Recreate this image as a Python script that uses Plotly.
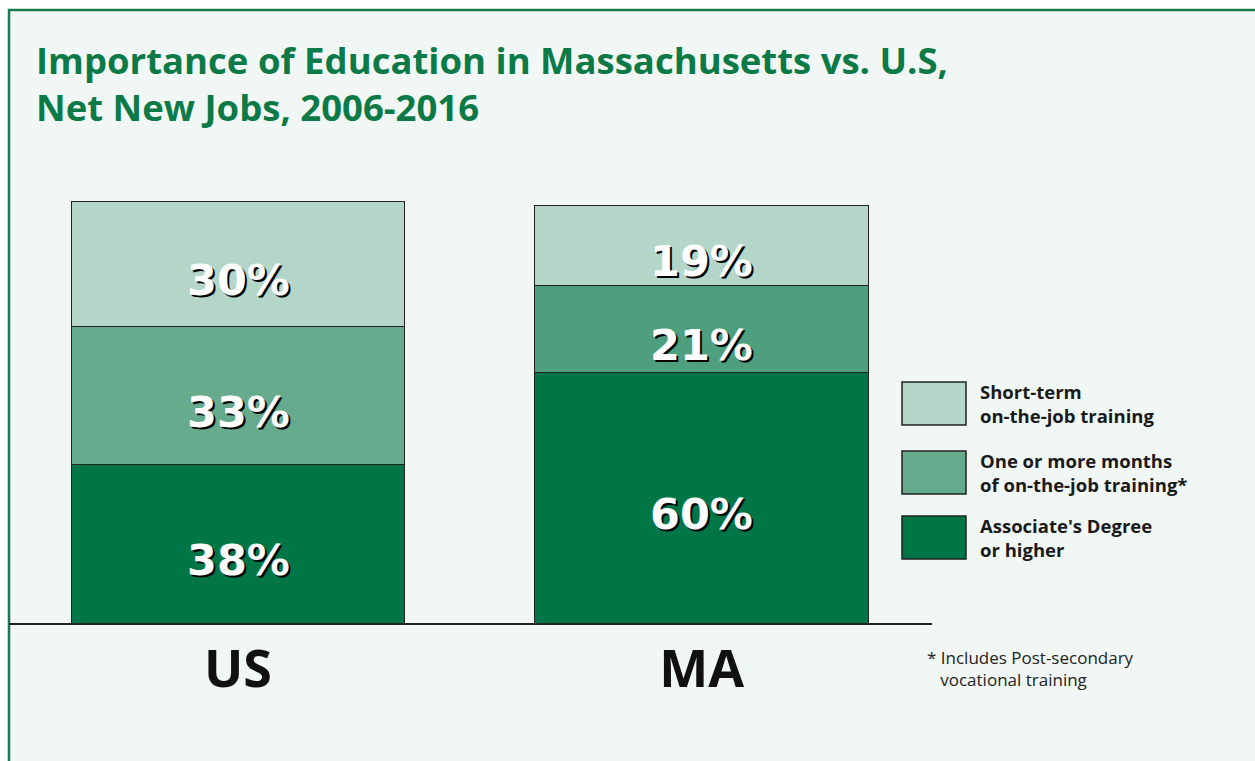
import plotly.graph_objects as go

# ---- data ----
categories = ["US", "MA"]
assoc_degree = [38, 60]
one_or_more_months = [33, 21]
short_term = [30, 19]

series_names = ["Associate's Degree<br>or higher",
                "One or more months<br>of on-the-job training*",
                "Short-term<br>on-the-job training"]
series_values = [assoc_degree, one_or_more_months, short_term]
series_colors = [["#007545", "#007545"],
                 ["#67ab8e", "#4e9f7e"],
                 ["#b3d6c8", "#b3d6c8"]]
legend_colors = ["#007545", "#67ab8e", "#b3d6c8"]

title_text = "Importance of Education in Massachusetts vs. U.S,<br>Net New Jobs, 2006-2016"
footnote = "* Includes Post-secondary<br>   vocational training"

# ---- layout geometry (pixels) ----
W, H = 1255, 761
ML, MR, MT, MB = 9, 323, 164, 138
PW = W - ML - MR
PH = H - MT - MB

def px_x(p):
    return (p - ML) / PW

def px_y(p):
    return (H - MB - p) / PH

fig = go.Figure()
for name, vals, cols in zip(series_names, series_values, series_colors):
    fig.add_trace(go.Bar(
        x=list(range(len(categories))), y=vals, name=name,
        marker=dict(color=cols, line=dict(color="#222222", width=1)),
        width=0.72, showlegend=False, hoverinfo="y+name",
    ))

annotations = []
# value labels
for i, cat in enumerate(categories):
    base = 0
    for vals in series_values:
        v = vals[i]
        annotations.append(dict(
            x=i, y=base + v / 2, xref="x", yref="y", text=f"{v}%",
            showarrow=False, yshift=-16,
            font=dict(family="DejaVu Sans", size=43, color="white",
                      weight="bold", shadow="2px 2px 0px #000000"),
        ))
        base += v

# title
annotations.append(dict(
    x=px_x(34), y=px_y(33), xref="paper", yref="paper", xanchor="left", yanchor="top",
    text=title_text, showarrow=False, align="left",
    font=dict(family="Open Sans", size=36.5, color="#0b7a47", weight="bold"),
))

# legend
legend_boxes = [(516, 559), (451, 494), (382, 425)]
shapes = [dict(type="rect", xref="paper", yref="paper", layer="below",
               x0=0, x1=1.5, y0=-0.5, y1=px_y(10),
               fillcolor="#f1f7f5", line=dict(color="#1a7a4f", width=2.5))]
for (y0, y1), col, name in zip(legend_boxes, legend_colors, series_names):
    shapes.append(dict(type="rect", xref="paper", yref="paper",
                       x0=px_x(902), x1=px_x(966), y0=px_y(y1), y1=px_y(y0),
                       fillcolor=col, line=dict(color="#222222", width=1.5)))
    annotations.append(dict(
        x=px_x(978), y=px_y((y0 + y1) / 2), xref="paper", yref="paper",
        xanchor="left", yanchor="middle", text=name, showarrow=False, align="left",
        font=dict(family="Open Sans", size=18.5, color="#1a1a1a", weight="bold"),
    ))

# footnote
annotations.append(dict(
    x=px_x(925), y=px_y(668), xref="paper", yref="paper",
    xanchor="left", yanchor="middle", text=footnote, showarrow=False, align="left",
    font=dict(family="Open Sans", size=17, color="#222222"),
))

fig.update_layout(
    width=W, height=H, barmode="stack",
    margin=dict(l=ML, r=MR, t=MT, b=MB),
    paper_bgcolor="white", plot_bgcolor="rgba(0,0,0,0)",
    shapes=shapes, annotations=annotations, showlegend=False,
    xaxis=dict(range=[-0.494, 1.497], tickmode="array",
               tickvals=list(range(len(categories))), ticktext=categories,
               showline=True, linecolor="#222222", linewidth=1.5,
               showgrid=False, zeroline=False, ticks="",
               ticklabelstandoff=0,
               tickfont=dict(family="Open Sans", size=52, color="#111111", weight="bold")),
    yaxis=dict(range=[0, 110], visible=False, showgrid=False, zeroline=False),
)

fig.write_html("out.html", config={"displayModeBar": False},
               post_script="document.body.style.margin='0';")
